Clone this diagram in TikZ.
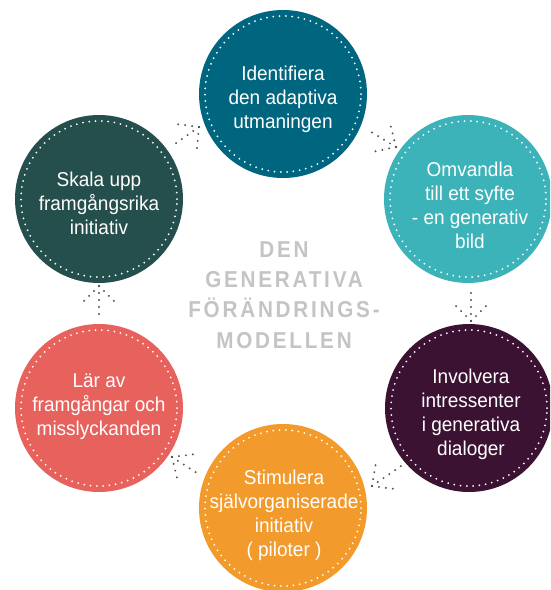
\documentclass[tikz,border=0pt]{standalone}
\usepackage{fontspec}
\setmainfont{Liberation Sans}[FakeStretch=0.95]
\newfontfamily\titlefont{Liberation Sans}[FakeStretch=0.9,LetterSpace=12]
\definecolor{identc}{HTML}{00667F}
\definecolor{omvc}{HTML}{3CB3B8}
\definecolor{invc}{HTML}{3B1232}
\definecolor{stimc}{HTML}{F29A2B}
\definecolor{larc}{HTML}{E8625D}
\definecolor{skalac}{HTML}{254F4C}
\definecolor{dotgray}{HTML}{555555}
\definecolor{titlegray}{HTML}{C4C4C4}
\begin{document}
\begin{tikzpicture}[x=1pt,y=-1pt,
  circ/.style={circle, minimum size=168pt, inner sep=0pt, draw=none},
  ring/.style={draw=white, line width=2pt, line cap=round, dash pattern=on 0pt off 6.3pt},
  lbl/.style={text=white, align=center, inner sep=0pt, font=\fontsize{20}{24}\selectfont},
  ttl/.style={text=titlegray, anchor=base, inner sep=0pt, font=\titlefont\bfseries\fontsize{23}{28}\selectfont},
  dotl/.style={draw=dotgray, line width=2.2pt, line cap=round, dash pattern=on 0pt off 7pt}]
\useasboundingbox (0,0) rectangle (550,590);
\clip (0,0) rectangle (550,590);

% circles
\node[circ, fill=identc] (ident) at (283,94) {};
\node[circ, fill=omvc]   (omv)   at (468,199) {};
\node[circ, fill=invc]   (inv)   at (469,408) {};
\node[circ, fill=stimc]  (stim)  at (283,508) {};
\node[circ, fill=larc]   (lar)   at (99,408) {};
\node[circ, fill=skalac] (skala) at (99,199) {};
\foreach \c in {ident,omv,inv,stim,lar,skala}
  \draw[ring] (\c.center) circle (78pt);

% labels
\node[lbl] (identt) at (283,99) {Identifiera\\den adaptiva\\utmaningen};
\node[lbl] (omvt)   at (470,205) {Omvandla\\till ett syfte\\- en generativ\\bild};
\node[lbl] (invt)   at (471,414) {Involvera\\intressenter\\i generativa\\dialoger};
\node[lbl] (stimt)  at (284,515) {Stimulera\\självorganiserade\\initiativ\\( piloter )};
\node[lbl] (lart)   at (99,407) {Lär av\\framgångar och\\misslyckanden};
\node[lbl] (skalat) at (99,203) {Skala upp\\framgångsrika\\initiativ};

% title
\node[ttl] (t1) at (284,257) {DEN};
\node[ttl] (t2) at (284,287) {GENERATIVA};
\node[ttl] (t3) at (284,317) {FÖRÄNDRINGS-};
\node[ttl] (t4) at (284,348) {MODELLEN};

% dotted arrows
\coordinate (a1tip) at (199,127); \coordinate (a1tail) at (172,146);
\coordinate (a1l) at (176,124);   \coordinate (a1r) at (197,148);
\coordinate (a2tip) at (396,147); \coordinate (a2tail) at (368,130);
\coordinate (a2l) at (390,123);   \coordinate (a2r) at (372,152);
\coordinate (a3tip) at (471,321); \coordinate (a3tail) at (471,289);
\coordinate (a3l) at (455,305);   \coordinate (a3r) at (487,305);
\coordinate (a4tip) at (372,486); \coordinate (a4tail) at (404,464);
\coordinate (a4l) at (376,462);   \coordinate (a4r) at (395,489);
\coordinate (a5tip) at (172,457); \coordinate (a5tail) at (200,475);
\coordinate (a5l) at (196,454);   \coordinate (a5r) at (178,482);
\coordinate (a6tip) at (99,286);  \coordinate (a6tail) at (99,319);
\coordinate (a6l) at (83,302);    \coordinate (a6r) at (115,302);
\foreach \a in {a1,a2,a3,a4,a5,a6}{
  \draw[dotl] (\a tip) -- (\a tail);
  \draw[dotl] (\a tip) -- (\a l);
  \draw[dotl] (\a tip) -- (\a r);
}
\end{tikzpicture}
\end{document}
